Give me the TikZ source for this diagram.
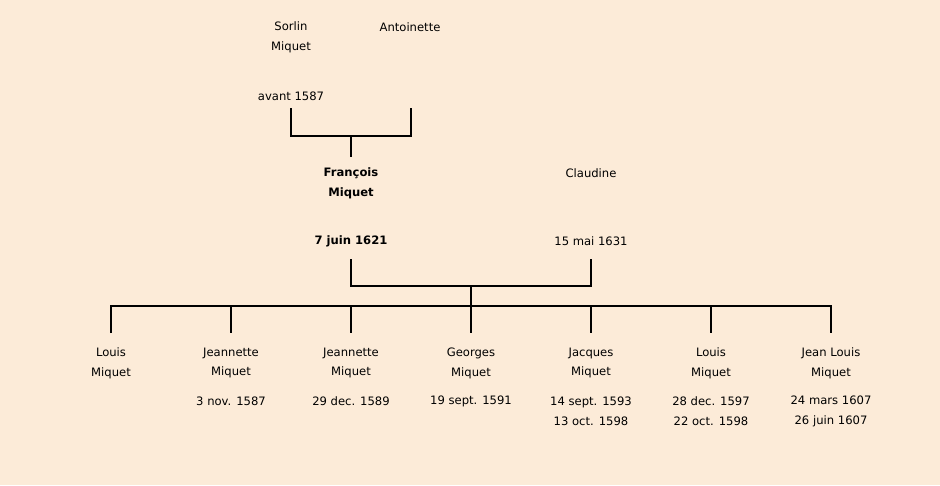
\documentclass[tikz,border=0pt]{standalone}
\usepackage{fontspec}
\setmainfont{DejaVu Sans}
\usetikzlibrary{positioning}
\definecolor{parchment}{RGB}{252,235,216}

\begin{document}
\begin{tikzpicture}[x=0.02cm, y=-0.02cm,
    person/.style={align=center, inner sep=0pt, font=\fontsize{6.6}{11.3}\selectfont},
    lien/.style={line width=1.4pt}]
    \fill[parchment] (0,0) rectangle (940,485);
    \useasboundingbox (0,0) rectangle (940,485);

    % grands-parents
    \node[person] (sorlin) at (291,37) {Sorlin\\Miquet};
    \node[person] (sorlind) at (291,96) {avant 1587};
    \node[person] (antoinette) at (410,27) {Antoinette};
    \coordinate (sorlinb) at (291,108);
    \coordinate (antoinetteb) at (411,108);
    \coordinate (u1) at (351,136);

    % parents
    \node[person, font=\fontsize{6.6}{11.3}\selectfont\bfseries] (francois) at (351,183) {François\\Miquet};
    \node[person, font=\fontsize{6.6}{11.3}\selectfont\bfseries] (francoisd) at (351,241) {7 juin 1621};
    \node[person] (claudine) at (591,173) {Claudine};
    \node[person] (claudined) at (591,241) {15 mai 1631};
    \coordinate (francoist) at (351,157);
    \coordinate (francoisb) at (351,259);
    \coordinate (claudineb) at (591,259);
    \coordinate (u2) at (471,286);
    \coordinate (fratrie) at (471,306);

    % enfants
    \node[person] (c1) at (111,363) {Louis\\Miquet};
    \node[person] (c2) at (231,363) {Jeannette\\Miquet};
    \node[person] (c2d) at (231,401) {3 nov. 1587};
    \node[person] (c3) at (351,363) {Jeannette\\Miquet};
    \node[person] (c3d) at (351,401) {29 dec. 1589};
    \node[person] (c4) at (471,363) {Georges\\Miquet};
    \node[person] (c4d) at (471,401) {19 sept. 1591};
    \node[person] (c5) at (591,363) {Jacques\\Miquet};
    \node[person] (c5d) at (591,411) {14 sept. 1593\\13 oct. 1598};
    \node[person] (c6) at (711,363) {Louis\\Miquet};
    \node[person] (c6d) at (711,411) {28 dec. 1597\\22 oct. 1598};
    \node[person] (c7) at (831,363) {Jean Louis\\Miquet};
    \node[person] (c7d) at (831,411) {24 mars 1607\\26 juin 1607};

    \draw[lien] (sorlinb) |- (u1) -| (antoinetteb);
    \draw[lien] (u1) -- (francoist);
    \draw[lien] (francoisb) |- (u2) -| (claudineb);
    \draw[lien] (u2) -- (fratrie);
    \draw[lien] (111,333) |- (fratrie) -| (831,333);
    \foreach \x in {231,351,471,591,711}
        \draw[lien] (\x,306) -- (\x,333);
\end{tikzpicture}
\end{document}
